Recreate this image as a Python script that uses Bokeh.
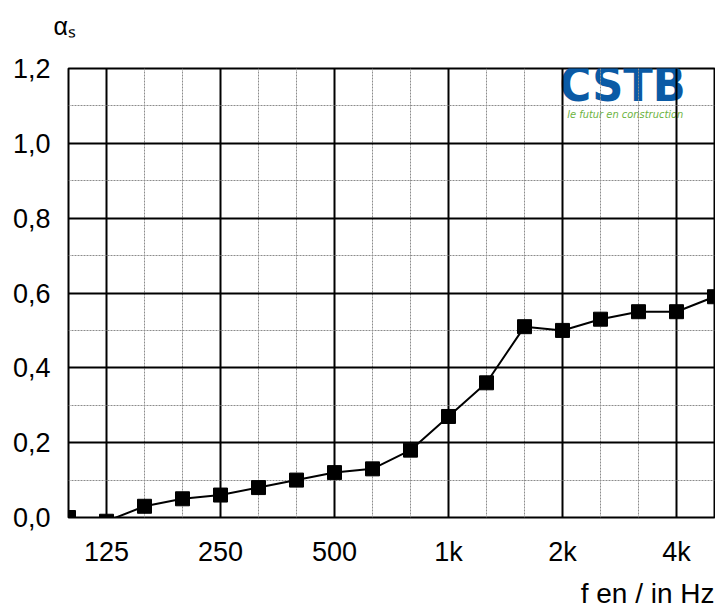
from bokeh.plotting import figure
from bokeh.models import FixedTicker, Label, Range1d, Title
from bokeh.embed import file_html
from bokeh.resources import INLINE

# ---- data ----
bands = ["100", "125", "160", "200", "250", "315", "400", "500", "630", "800",
         "1000", "1250", "1600", "2000", "2500", "3150", "4000", "5000"]
alpha_s = [0.00, -0.01, 0.03, 0.05, 0.06, 0.08, 0.10, 0.12, 0.13, 0.18,
           0.27, 0.36, 0.51, 0.50, 0.53, 0.55, 0.55, 0.59]
x_tick_bands = ["125", "250", "500", "1000", "2000", "4000"]
x_tick_labels = ["125", "250", "500", "1k", "2k", "4k"]
y_ticks = [0.0, 0.2, 0.4, 0.6, 0.8, 1.0, 1.2]
y_tick_labels = ["0,0", "0,2", "0,4", "0,6", "0,8", "1,0", "1,2"]
y_minor = [0.1, 0.3, 0.5, 0.7, 0.9, 1.1]
x_title = "f en / in Hz"
y_title = "αₛ"

FONT = "'Liberation Sans', Arial, sans-serif"
NARROW = "'Liberation Sans Narrow', 'DejaVu Sans Condensed', 'Liberation Sans', sans-serif"

xs = list(range(len(bands)))
major_idx = [bands.index(b) for b in x_tick_bands]
minor_idx = [i for i in xs if i not in major_idx]
n = len(bands) - 1

p = figure(width=715, height=614,
           x_range=Range1d(0, n), y_range=Range1d(0, 1.2),
           output_backend="svg", toolbar_location=None,
           min_border_left=68, min_border_right=1,
           min_border_top=68, min_border_bottom=92)
p.background_fill_color = "white"
p.border_fill_color = "white"
p.outline_line_color = "black"
p.outline_line_width = 2

# y title: second (empty) line lifts the symbol up, above the "1,2" label
p.title = Title(text=y_title + "\n", align="left", offset=-15, standoff=2,
                text_font=FONT, text_font_size="25px", text_font_style="normal",
                text_color="black")
p.add_layout(Title(text=x_title, align="right", standoff=12,
                   text_font=FONT, text_font_size="28px", text_font_style="normal",
                   text_color="black"), "below")

xt = FixedTicker(ticks=major_idx, minor_ticks=minor_idx)
yt = FixedTicker(ticks=y_ticks, minor_ticks=y_minor)
p.xaxis.ticker = xt
p.xgrid.ticker = xt
p.yaxis.ticker = yt
p.ygrid.ticker = yt
p.xaxis.major_label_overrides = {i: l for i, l in zip(major_idx, x_tick_labels)}
p.yaxis.major_label_overrides = {t: l for t, l in zip(y_ticks, y_tick_labels)}

for ax in (p.xaxis, p.yaxis):
    ax.axis_line_color = None
    ax.major_tick_line_color = None
    ax.minor_tick_line_color = None
    ax.major_label_text_font = FONT
    ax.major_label_text_font_size = "27px"
    ax.major_label_text_color = "black"
p.xaxis.major_label_standoff = 13
p.yaxis.major_label_standoff = 12

for g in (p.xgrid, p.ygrid):
    g.grid_line_color = "black"
    g.grid_line_width = 2
    g.minor_grid_line_color = "#8c8c8c"
    g.minor_grid_line_width = 1
    g.minor_grid_line_dash = "2 1"

# logo (drawn beneath the grid)
p.add_layout(Label(x=16.24, y=1.158, text="CSTB",
                   text_align="right", text_baseline="alphabetic",
                   text_font=NARROW, text_font_style="bold", text_font_size="48px",
                   text_color="#0a5aa5", level="image"))
p.add_layout(Label(x=16.18, y=1.078, text="le futur en construction",
                   text_align="right", text_baseline="alphabetic",
                   text_font=NARROW, text_font_style="italic", text_font_size="11px",
                   text_color="#6cb33f", level="image"))

p.line(xs, alpha_s, line_color="black", line_width=2)
p.scatter(xs, alpha_s, marker="square", size=14, color="black")

open("out.html", "w").write(file_html(p, INLINE))
